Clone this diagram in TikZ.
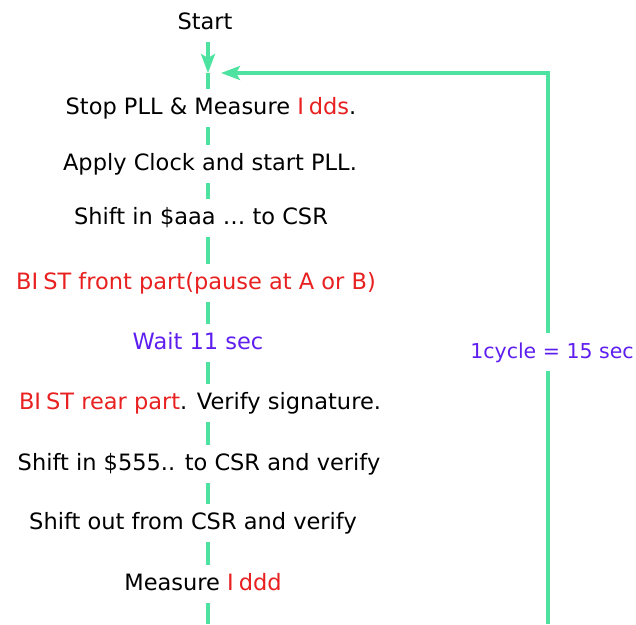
\documentclass[tikz,border=0pt]{standalone}
\usepackage{fontspec}
\setmainfont{DejaVu Sans}
\usepackage{xcolor}
\usetikzlibrary{arrows.meta}

\definecolor{flowgreen}{RGB}{78,226,160}
\definecolor{stepred}{RGB}{232,32,32}
\definecolor{waitviolet}{RGB}{94,30,240}
\newcommand{\igap}{\kern5pt}

\begin{document}
\begin{tikzpicture}[x=1pt,y=-1pt,
  stepnode/.style={inner sep=8pt,text height=17pt,text depth=5pt,font=\fontsize{22.5}{26}\selectfont},
  flow/.style={draw=flowgreen,line width=3.5pt},
  flowtip/.style={-{Stealth[length=19pt,width=14pt,inset=4pt]}}]
\useasboundingbox (0,0) rectangle (636,624);
\coordinate (spine) at (208,0);
\coordinate (join) at (208,73);
\coordinate (spinebot) at (208,624);
\coordinate (loopbot) at (548,624);
\coordinate (entry) at (221,73);

\node[stepnode] (start) at (205,23) {Start};
\node[stepnode] (stop) at (211,108) {Stop PLL \& Measure \textcolor{stepred}{I\igap dds}.};
\node[stepnode] (clock) at (210,164) {Apply Clock and start PLL.};
\node[stepnode] (shiftaaa) at (201,218) {Shift in \$aaa … to CSR};
\node[stepnode,text=stepred] (front) at (196,283) {BI\igap ST front part(pause at A or B)};
\node[stepnode,text=waitviolet] (wait) at (198,343) {Wait 11 sec};
\node[stepnode] (rear) at (200,403) {\textcolor{stepred}{BI\igap ST rear part}. Verify signature.};
\node[stepnode] (shiftfive) at (199,464) {Shift in \$555.. to CSR and verify};
\node[stepnode] (shiftout) at (193,523) {Shift out from CSR and verify};
\node[stepnode] (measure) at (203,584) {Measure \textcolor{stepred}{I\igap ddd}};
\node[stepnode,text=waitviolet,font=\fontsize{20.5}{24}\selectfont] (cycle) at (552,352) {1cycle = 15 sec};

% main column
\draw[flow,flowtip] (start.south -| spine) -- (join);
\draw[flow] (join) -- (stop.north -| spine);
\draw[flow] (stop.south -| spine) -- (clock.north -| spine);
\draw[flow] (clock.south -| spine) -- (shiftaaa.north -| spine);
\draw[flow] (shiftaaa.south -| spine) -- (front.north -| spine);
\draw[flow] (front.south -| spine) -- (wait.north -| spine);
\draw[flow] (wait.south -| spine) -- (rear.north -| spine);
\draw[flow] (rear.south -| spine) -- (shiftfive.north -| spine);
\draw[flow] (shiftfive.south -| spine) -- (shiftout.north -| spine);
\draw[flow] (shiftout.south -| spine) -- (measure.north -| spine);
\draw[flow] (measure.south -| spine) -- (spinebot);

% loop back
\draw[flow] (loopbot) -- (cycle.south -| loopbot);
\draw[flow,flowtip] (cycle.north -| loopbot) |- (entry);
\end{tikzpicture}
\end{document}
